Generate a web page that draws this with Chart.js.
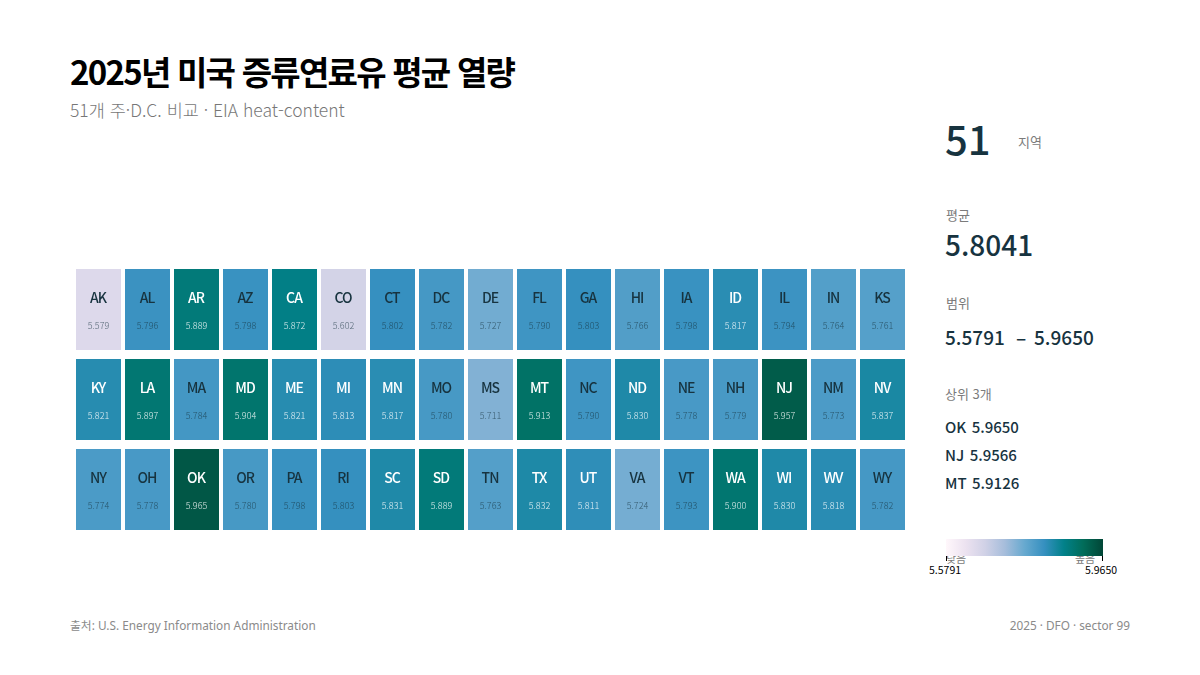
<!DOCTYPE html>
<html lang="ko"><head><meta charset="utf-8">
<script src="https://cdn.jsdelivr.net/npm/chart.js@4"></script>
<style>
html,body{margin:0;padding:0;background:#fff;width:1200px;height:675px;overflow:hidden}
body{font-family:"Noto Sans CJK KR","Noto Sans",sans-serif;position:relative}
.t{position:absolute;white-space:nowrap;line-height:1}
#wrap{position:absolute;left:74px;top:265px;width:833px;height:270px}
.dark{color:#17333f}
.gray{color:#7b7b7b}
.foot{font-family:"Noto Sans","Noto Sans CJK KR",sans-serif;font-size:11.8px;color:#8a8a8a}
.top3{font-size:15px;font-weight:500;word-spacing:-1.5px}
</style></head><body>
<div class="t" style="left:70px;top:55px;font-size:33px;font-weight:700;color:#000;letter-spacing:-1.75px">2025년 미국 증류연료유 평균 열량</div>
<div class="t" style="left:70px;top:101px;font-size:17.5px;font-weight:300;color:#777">51개 주·D.C. 비교 · EIA heat-content</div>
<div id="wrap"><canvas id="c" width="833" height="270"></canvas></div>
<div class="t dark" style="left:945px;top:118px;font-size:40px;font-weight:500">51</div>
<div class="t gray" style="left:1018px;top:135px;font-size:13px">지역</div>
<div class="t gray" style="left:946px;top:208px;font-size:13px">평균</div>
<div class="t dark" style="left:945px;top:230px;font-size:28px;font-weight:500">5.8041</div>
<div class="t gray" style="left:946px;top:296px;font-size:13px">범위</div>
<div class="t dark" style="left:945px;top:327px;font-size:19px;font-weight:500">5.5791</div>
<div class="t dark" style="left:1016px;top:327px;font-size:19px;font-weight:500">–</div>
<div class="t dark" style="left:1034px;top:327px;font-size:19px;font-weight:500">5.9650</div>
<div class="t gray" style="left:945px;top:387px;font-size:13px">상위 3개</div>
<div class="t dark top3" style="left:945px;top:419px">OK&nbsp; 5.9650</div>
<div class="t dark top3" style="left:945px;top:447px">NJ&nbsp; 5.9566</div>
<div class="t dark top3" style="left:945px;top:475px">MT&nbsp; 5.9126</div>
<div class="t gray" style="left:946px;top:553px;font-size:11px">낮음</div>
<div class="t gray" style="left:1075px;top:553px;font-size:11px">높음</div>
<div id="bar" style="position:absolute;left:946px;top:539px;width:157px;height:17px"></div>
<div style="position:absolute;left:946px;top:556px;width:1px;height:5px;background:#000"></div>
<div style="position:absolute;left:1102px;top:556px;width:1px;height:5px;background:#000"></div>
<div class="t" style="left:929px;top:565px;font-size:10.5px;color:#000">5.5791</div>
<div class="t" style="left:1085px;top:565px;font-size:10.5px;color:#000">5.9650</div>
<div class="t foot" style="left:70px;top:620px">출처: U.S. Energy Information Administration</div>
<div class="t foot" style="right:70px;top:620px">2025 · DFO · sector 99</div>
<script>
const columns = Array.from({length:17},(_, i)=>i);
const row1States = ["AK","AL","AR","AZ","CA","CO","CT","DC","DE","FL","GA","HI","IA","ID","IL","IN","KS"];
const row1Values = [5.579,5.796,5.889,5.798,5.872,5.602,5.802,5.782,5.727,5.790,5.803,5.766,5.798,5.817,5.794,5.764,5.761];
const row2States = ["KY","LA","MA","MD","ME","MI","MN","MO","MS","MT","NC","ND","NE","NH","NJ","NM","NV"];
const row2Values = [5.821,5.897,5.784,5.904,5.821,5.813,5.817,5.780,5.711,5.913,5.790,5.830,5.778,5.779,5.957,5.773,5.837];
const row3States = ["NY","OH","OK","OR","PA","RI","SC","SD","TN","TX","UT","VA","VT","WA","WI","WV","WY"];
const row3Values = [5.774,5.778,5.965,5.780,5.798,5.803,5.831,5.889,5.763,5.832,5.811,5.724,5.793,5.900,5.830,5.818,5.782];
const palette = ["#fff7fb","#ece2f0","#d0d1e6","#a6bddb","#67a9cf","#3690c0","#02818a","#016c59","#014636"];
const rows = [[row1States,row1Values],[row2States,row2Values],[row3States,row3Values]];
const hex = h => [1,3,5].map(i=>parseInt(h.substr(i,2),16));
function ramp(t){
  t=Math.max(0,Math.min(1,t))*(palette.length-1);
  const i=Math.min(palette.length-2,Math.floor(t)),f=t-i,a=hex(palette[i]),b=hex(palette[i+1]);
  return `rgb(${a.map((v,k)=>Math.round(v+(b[k]-v)*f)).join(",")})`;
}
const colour = v => ramp(0.19+(v-5.579)*1.95);
document.getElementById("bar").style.background =
  "linear-gradient(to right,"+palette.join(",")+")";
const cellText = {
  id:"cellText",
  afterDatasetsDraw(chart){
    const c=chart.ctx;
    c.save();c.textAlign="center";c.textBaseline="middle";
    chart.data.datasets.forEach((ds,d)=>{
      chart.getDatasetMeta(d).data.forEach((el,i)=>{
        const v=rows[d][1][i],light=v>5.805;
        const top=Math.min(el.y,el.base),x=el.x;
        c.fillStyle=light?"#ffffff":"#17333f";
        c.font='500 14px "Noto Sans CJK KR"';
        c.letterSpacing="-1px";
        c.fillText(rows[d][0][i],x-.5,top+29);
        c.letterSpacing="0px";
        c.globalAlpha=light?.85:.7;
        c.font='300 9px "Noto Sans CJK KR"';
        c.fillText(v.toFixed(3),x,top+57);
        c.globalAlpha=1;
      });
    });
    c.restore();
  }
};
new Chart(document.getElementById("c"),{
  type:"bar",
  data:{labels:columns,datasets:rows.map((r,d)=>({
    label:"row"+d,grouped:false,
    data:r[1].map(()=>[d+4/90,d+85/90]),
    backgroundColor:r[1].map(colour),
    borderWidth:0,borderSkipped:false,
    barPercentage:45/49,categoryPercentage:1
  }))},
  plugins:[cellText],
  options:{responsive:false,animation:false,
    layout:{padding:0},
    plugins:{legend:{display:false},tooltip:{enabled:false},title:{display:false}},
    scales:{
      x:{display:false,offset:true},
      y:{display:false,reverse:true,min:0,max:3}
    }}
});
</script>
</body></html>
